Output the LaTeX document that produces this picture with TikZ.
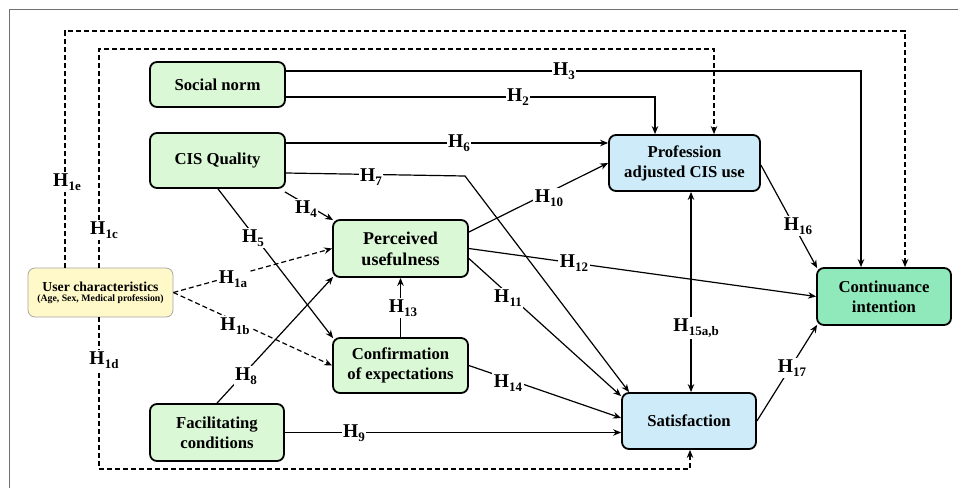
\documentclass[tikz,border=0pt]{standalone}
\usepackage{fontspec}
\setmainfont{Liberation Serif}
\usetikzlibrary{arrows.meta,calc}
\definecolor{gbox}{HTML}{DAF8D5}
\definecolor{bbox}{HTML}{CDEBF9}
\definecolor{cbox}{HTML}{90E9BA}
\definecolor{ybox}{HTML}{FFF9C9}
\definecolor{frameg}{HTML}{707070}
\newcommand\hyp[1]{H\kern0.3pt\raisebox{-4.5pt}{\fontsize{13}{12}\selectfont #1}}
\begin{document}
\begin{tikzpicture}[x=1pt,y=-1pt,
  box/.style={draw,line width=1.8pt,rounded corners=7pt,align=center,
    font=\fontsize{16.7}{20}\selectfont\bfseries,inner sep=0pt},
  conn/.style={line width=1.2pt,-{Stealth[length=8pt,width=6.5pt]}},
  dconn/.style={conn,dash pattern=on 5pt off 3pt},
  hl/.style={fill=white,inner sep=1.5pt,font=\fontsize{19.5}{20}\selectfont\bfseries}]
\useasboundingbox (0,0) rectangle (958,488);
\fill[white] (0,0) rectangle (958,488);
\draw[frameg,line width=0.9pt] (9,488) -- (9,9) -- (958,9);

% nodes
\node[box,fill=gbox,minimum width=135pt,minimum height=45pt] (sn) at (217.5,84.5) {Social norm};
\node[box,fill=gbox,minimum width=135pt,minimum height=55pt] (cq) at (217.5,160.5) {CIS Quality};
\node[box,fill=gbox,minimum width=135pt,minimum height=57pt,font=\fontsize{18}{21}\selectfont\bfseries] (pu) at (400.5,248.5) {Perceived\\usefulness};
\node[box,fill=gbox,minimum width=135pt,minimum height=55pt] (ce) at (400.5,365.5) {Confirmation\\of expectations};
\node[box,fill=gbox,minimum width=134pt,minimum height=57pt] (fc) at (217,432.5) {Facilitating\\conditions};
\node[box,fill=bbox,minimum width=151pt,minimum height=56pt] (pa) at (684.5,163) {Profession\\adjusted CIS use};
\node[box,fill=bbox,minimum width=134pt,minimum height=56pt] (sa) at (689,421) {Satisfaction};
\node[box,fill=cbox,minimum width=134pt,minimum height=57pt] (ci) at (884,296.5) {Continuance\\intention};
\node[draw=gray!70,line width=0.8pt,rounded corners=7pt,fill=ybox,align=center,inner sep=0pt,
  minimum width=145pt,minimum height=49pt,font=\bfseries] (uc) at (100.5,292.5)
  {\fontsize{13.7}{16}\selectfont User characteristics\\[-2pt]\fontsize{9.8}{11}\selectfont (Age, Sex, Medical profession)};

% helper coordinates
\coordinate (b7) at (465,176);
\coordinate (etop) at (905,31);
\coordinate (ctop) at (714,49);
\coordinate (dbot) at (690,469);

% solid connectors
\draw[conn] ($(sn.east)+(0,-13.5)$) -| ($(ci.north)+(-23,0)$);
\draw[conn] ($(sn.east)+(0,12.5)$) -| ($(pa.north)+(-29.5,0)$);
\draw[conn] ($(cq.east)+(0,-17.5)$) -- (pa.west |- {$(cq.east)+(0,-17.5)$});
\draw[conn] ($(cq.east)+(0,12.5)$) -- (b7) -- ($(sa.north west)+(8,0)$);
\draw[conn] ($(cq.south east)+(-1,3)$) -- ($(pu.north west)+(1,1)$);
\draw[conn] ($(cq.south)+(0.5,0)$) -- ($(ce.north west)+(1,1)$);
\draw[conn] (fc.north) -- ($(pu.south west)+(1,-1)$);
\draw[conn] (fc.east) -- (sa.west |- fc.east);
\draw[conn] (ce.north) -- (pu.south);
\draw[conn] ($(pu.east)+(0,-16.5)$) -- (pa.west);
\draw[conn] ($(pu.east)+(0,10)$) -- ($(sa.north west)+(0,4)$);
\draw[conn] (pu.east) -- (ci.west);
\draw[conn] (ce.east) -- ($(sa.west)+(0,-3)$);
\draw[line width=1.2pt,{Stealth[length=8pt,width=6.5pt]}-{Stealth[length=8pt,width=6.5pt]}]
  ($(pa.south)+(6.5,0)$) -- ($(sa.north)+(2,0)$);
\draw[conn] ($(pa.east)+(0,2)$) -- ($(ci.north west)+(1,1)$);
\draw[conn] (sa.east) -- ($(ci.south west)+(1,-1)$);

% dashed connectors
\draw[dconn] ($(uc.north)+(-35.5,0)$) |- (etop) -- (etop |- ci.north);
\draw[dconn] ($(uc.north)+(-1.5,0)$) |- (ctop) -- (ctop |- pa.north);
\draw[dconn] ($(uc.south)+(-1.5,0)$) |- (dbot) -- (dbot |- sa.south);
\draw[dconn] (uc.east) -- (pu.west);
\draw[dconn] (uc.east) -- (ce.west);

% labels
\node[hl] at (564,71) {\hyp{3}};
\node[hl] at (518,97) {\hyp{2}};
\node[hl] at (459,143) {\hyp{6}};
\node[hl] at (371,177) {\hyp{7}};
\node[hl] at (306,209) {\hyp{4}};
\node[hl] at (253,238) {\hyp{5}};
\node[hl] at (246,376) {\hyp{8}};
\node[hl] at (354,433) {\hyp{9}};
\node[hl] at (403,308) {\hyp{13}};
\node[hl] at (549,198) {\hyp{10}};
\node[hl] at (508,298) {\hyp{11}};
\node[hl] at (574,263) {\hyp{12}};
\node[hl] at (508,383) {\hyp{14}};
\node[hl] at (696,328) {\hyp{15a,b}};
\node[hl] at (798,226) {\hyp{16}};
\node[hl] at (792,368) {\hyp{17}};
\node[hl] at (67,182) {\hyp{1e}};
\node[hl] at (104,230) {\hyp{1c}};
\node[hl] at (104,360) {\hyp{1d}};
\node[hl] at (233,279) {\hyp{1a}};
\node[hl] at (235,326) {\hyp{1b}};
\end{tikzpicture}
\end{document}
